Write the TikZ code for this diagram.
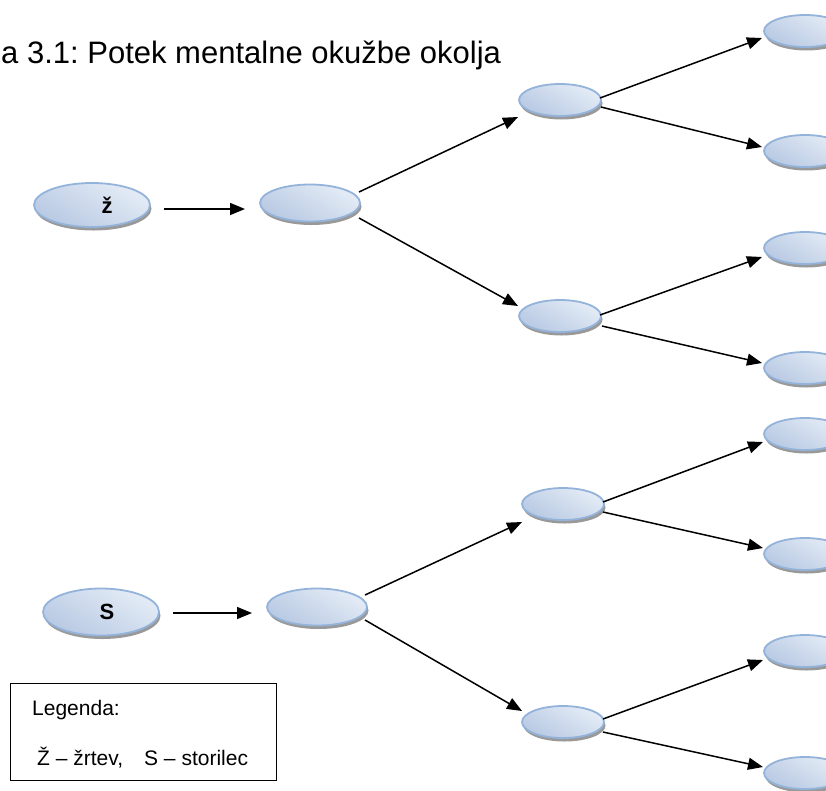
\documentclass[tikz,border=0pt]{standalone}
\usepackage{fontspec}
\setmainfont{Liberation Sans}
\usetikzlibrary{shapes.geometric,arrows.meta,shadows}
\definecolor{elbord}{RGB}{148,179,218}
\definecolor{ellight}{RGB}{228,236,246}
\definecolor{eldark}{RGB}{184,201,227}
\begin{document}
\frenchspacing
\begin{tikzpicture}[x=1pt,y=-1pt,
  blob/.style={ellipse, draw=elbord, line width=1.8pt, top color=ellight, bottom color=eldark, shading angle=-30,
    inner sep=0pt, minimum width=82pt, minimum height=32pt,
    drop shadow={shadow xshift=1.5pt, shadow yshift=-3.5pt, fill=gray!80, opacity=1}},
  rootblob/.style={blob, minimum width=116pt, minimum height=44pt},
  firstblob/.style={blob, minimum width=100pt, minimum height=37pt},
  conn/.style={line width=1.5pt, -{Triangle[length=15pt,width=12pt]}},
  lbl/.style={font=\fontsize{22}{26}\selectfont\bfseries, anchor=base, inner sep=0pt},
  legtext/.style={font=\fontsize{21}{25}\selectfont, anchor=base west, inner sep=0pt},
  titletext/.style={font=\fontsize{31}{36}\selectfont, anchor=base west, inner sep=0pt}
]
\useasboundingbox (0,0) rectangle (826,790);
\clip (0,0) rectangle (826,790);

% title
\node[titletext] (title) at (1,63) {a 3.1: Potek mentalne okužbe okolja};

% Z tree
\node[rootblob] (z) at (92,205) {};
\node[lbl] (zl) at (107,213) {ž};
\node[firstblob] (l1z) at (310,203) {};
\node[blob] (az) at (560,100) {};
\node[blob] (bz) at (560,316) {};
\node[blob] (a1) at (805,31) {};
\node[blob] (a2) at (805,151) {};
\node[blob] (b1) at (805,248) {};
\node[blob] (b2) at (805,368) {};

% S tree
\node[rootblob, minimum height=47pt] (s) at (101,612) {};
\node[lbl] (sl) at (107,619) {S};
\node[firstblob] (l1s) at (317,607) {};
\node[blob] (as) at (563,504) {};
\node[blob] (bs) at (563,722) {};
\node[blob] (s1) at (805,434) {};
\node[blob] (s2) at (805,554) {};
\node[blob] (s3) at (805,651) {};
\node[blob] (s4) at (805,773) {};

% connectors Z tree
\draw[conn] ([shift={(72,4)}]z.center) -- ([shift={(-65,6)}]l1z.center);
\draw[conn] ([shift={(49,-11)}]l1z.center) -- ([shift={(-42,17)}]az.center);
\draw[conn] ([shift={(49,15)}]l1z.center) -- ([shift={(-42,-10)}]bz.center);
\draw[conn] ([shift={(40,-2)}]az.center) -- ([shift={(-43,7)}]a1.center);
\draw[conn] ([shift={(41,7)}]az.center) -- ([shift={(-43,-4)}]a2.center);
\draw[conn] ([shift={(40,-1)}]bz.center) -- ([shift={(-43,9)}]b1.center);
\draw[conn] ([shift={(42,10)}]bz.center) -- ([shift={(-43,-5)}]b2.center);

% connectors S tree
\draw[conn] ([shift={(72,1)}]s.center) -- ([shift={(-65,6)}]l1s.center);
\draw[conn] ([shift={(48,-12)}]l1s.center) -- ([shift={(-41,18)}]as.center);
\draw[conn] ([shift={(48,13)}]l1s.center) -- ([shift={(-41,-11)}]bs.center);
\draw[conn] ([shift={(40,-2)}]as.center) -- ([shift={(-42,8)}]s1.center);
\draw[conn] ([shift={(40,8)}]as.center) -- ([shift={(-42,-6)}]s2.center);
\draw[conn] ([shift={(40,-3)}]bs.center) -- ([shift={(-42,9)}]s3.center);
\draw[conn] ([shift={(40,10)}]bs.center) -- ([shift={(-42,-6)}]s4.center);

% legend
\node[draw, line width=1.3pt, minimum width=266pt, minimum height=97pt, inner sep=0pt, anchor=north west] (leg) at (10,683) {};
\node[legtext] (leg1) at (32,715) {Legenda:};
\node[legtext] (leg2) at (37,765) {Ž – žrtev,\hspace{1em}S – storilec};
\end{tikzpicture}
\end{document}
